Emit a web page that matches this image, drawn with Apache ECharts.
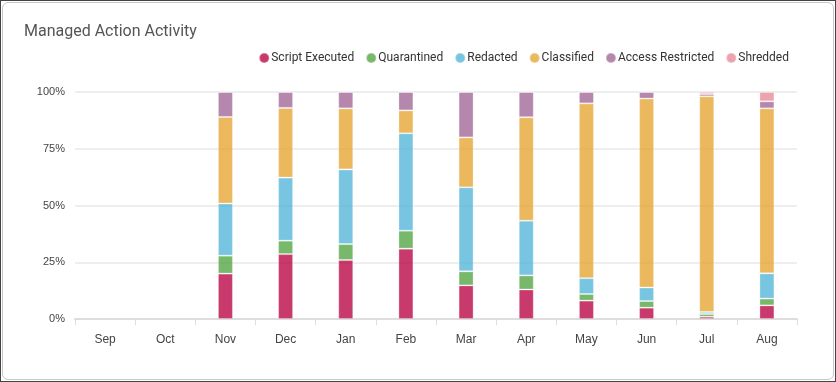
<!DOCTYPE html>
<html><head><meta charset="utf-8">
<script src="https://cdn.jsdelivr.net/npm/echarts@6/dist/echarts.min.js"></script>
<style>
html,body{margin:0;padding:0;background:#fff;}
#wrap{position:absolute;left:0;top:0;width:834px;height:380px;border:1px solid #444;}
#inner{position:absolute;left:1px;top:1px;width:830px;height:376px;border:1px solid #c8c8c8;border-radius:6px;}
#chart{position:absolute;left:0;top:0;width:836px;height:382px;}
</style></head>
<body>
<div id="wrap"><div id="inner"></div></div>
<div id="chart"></div>
<script>
var categories = ['Sep','Oct','Nov','Dec','Jan','Feb','Mar','Apr','May','Jun','Jul','Aug'];
var scriptExecuted   = [null,null,20.0,28.6,26.0,31.0,14.8,13.0,8.1,5.0,1.0,6.0];
var quarantined      = [null,null,7.9,5.9,7.0,7.9,6.2,6.2,2.9,2.9,1.2,3.0];
var redacted         = [null,null,23.0,27.8,32.9,42.9,37.0,24.1,7.0,6.0,0.9,11.1];
var classified       = [null,null,38.1,30.7,26.9,10.1,22.0,45.6,77.0,83.2,95.0,72.7];
var accessRestricted = [null,null,11.0,7.0,7.2,8.1,20.0,11.1,5.0,2.9,1.0,3.1];
var shredded         = [null,null,0,0,0,0,0,0,0,0,0.9,4.1];
var yTicks = [0,25,50,75,100];

var names = ['Script Executed','Quarantined','Redacted','Classified','Access Restricted','Shredded'];
var colors = ['#BC0F4C','#59A84B','#5AB8DC','#E6A83A','#A56C9B','#E98D9D'];
var datas = [scriptExecuted,quarantined,redacted,classified,accessRestricted,shredded];

var series = names.map(function(n,i){
  return {
    name:n, type:'bar', stack:'total', barWidth:15,
    data:datas[i],
    itemStyle:{color:colors[i], opacity:0.82, borderColor:'rgba(255,255,255,0.35)', borderWidth:1},
    emphasis:{disabled:true}
  };
});

var chart = echarts.init(document.getElementById('chart'));
chart.setOption({
  animation:false,
  color:colors,
  title:{text:'Managed Action Activity', left:19, top:19,
    textStyle:{fontFamily:'Roboto', fontSize:16, fontWeight:'normal', color:'#555'}},
  legend:{right:42, top:47, icon:'circle', itemWidth:10, itemHeight:10, itemGap:11,
    textStyle:{fontFamily:'Roboto', fontSize:12, color:'#333', padding:[0,0,0,-3]},
    data:names},
  grid:{left:75, right:39, top:92, bottom:63},
  xAxis:{type:'category', data:categories, boundaryGap:true,
    axisLine:{lineStyle:{color:'#ddd', width:2}},
    axisTick:{show:true, length:6, lineStyle:{color:'#ddd'}},
    axisLabel:{fontFamily:'Liberation Sans', fontSize:12, color:'#444', margin:15}},
  yAxis:{type:'value', min:yTicks[0], max:yTicks[yTicks.length-1], interval:25,
    axisLabel:{formatter:'{value}%', fontFamily:'Liberation Sans', fontSize:11, color:'#444', margin:10},
    axisLine:{show:false}, axisTick:{show:false},
    splitLine:{lineStyle:{color:'#e8e8e8', width:1.5}}},
  series:series
});
</script>
</body></html>
